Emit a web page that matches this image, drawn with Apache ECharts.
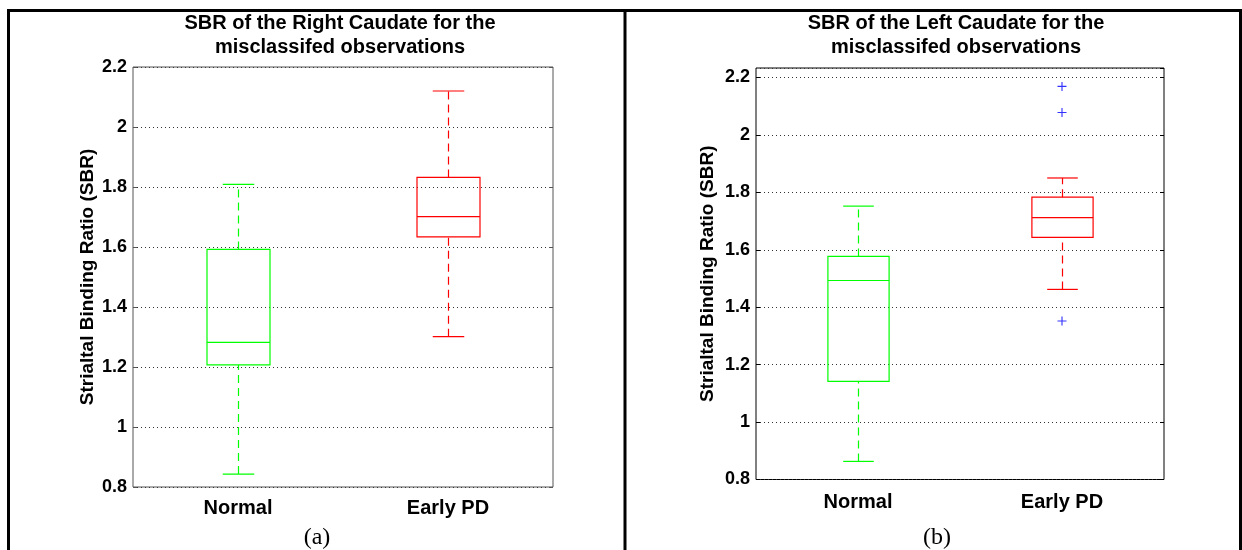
<!DOCTYPE html>
<html>
<head>
<meta charset="utf-8">
<script src="https://cdn.jsdelivr.net/npm/echarts@6/dist/echarts.min.js"></script>
<style>
html,body{margin:0;padding:0;background:#fff;}
#c{width:1242px;height:550px;}
</style>
</head>
<body>
<div id="c"></div>
<script>
// ---- data ----
const categories = ['Normal', 'Early PD'];
// [lower whisker, Q1, median, Q3, upper whisker]
const rightNormal = [0.843, 1.207, 1.282, 1.592, 1.809];
const rightEarlyPD = [1.301, 1.634, 1.701, 1.832, 2.120];
const leftNormal = [0.863, 1.142, 1.493, 1.577, 1.752];
const leftEarlyPD = [1.462, 1.643, 1.712, 1.783, 1.850];
const leftEarlyPDOutliers = [2.169, 2.078, 1.352];
const titleA = 'SBR of the Right Caudate for the\nmisclassifed observations';
const titleB = 'SBR of the Left Caudate for the\nmisclassifed observations';
const yName = 'Strialtal Binding Ratio (SBR)';
const panelLabels = ['(a)', '(b)'];

// ---- styles ----
const boxColors = ['#00ff00', '#ff0000'];
const FONT = '"Liberation Sans", Arial, sans-serif';

function renderBox(params, api) {
  const idx = api.value(0);
  const lo = api.coord([idx, api.value(1)]);
  const q1 = api.coord([idx, api.value(2)]);
  const med = api.coord([idx, api.value(3)]);
  const q3 = api.coord([idx, api.value(4)]);
  const hi = api.coord([idx, api.value(5)]);
  const band = api.size([1, 0])[0];
  const cx = Math.round(lo[0]) + 0.5;
  const bw = band * 0.3, cw = band * 0.15;
  const color = boxColors[params.dataIndex];
  const solid = {stroke: color, lineWidth: 1.2, fill: null};
  const dashed = {stroke: color, lineWidth: 1.2, lineDash: [8, 5], fill: null};
  return {
    type: 'group',
    children: [
      {type: 'line', shape: {x1: cx, y1: q3[1], x2: cx, y2: hi[1]}, style: dashed},
      {type: 'line', shape: {x1: cx, y1: lo[1], x2: cx, y2: q1[1]}, style: dashed},
      {type: 'line', shape: {x1: cx - cw / 2, y1: hi[1], x2: cx + cw / 2, y2: hi[1]}, style: solid},
      {type: 'line', shape: {x1: cx - cw / 2, y1: lo[1], x2: cx + cw / 2, y2: lo[1]}, style: solid},
      {type: 'rect', shape: {x: cx - bw / 2, y: q3[1], width: bw, height: q1[1] - q3[1]}, style: solid},
      {type: 'line', shape: {x1: cx - bw / 2, y1: med[1], x2: cx + bw / 2, y2: med[1]}, style: solid}
    ]
  };
}

function yAxisCfg(gridIndex, max, frameColor, showLabels, right) {
  return {
    type: 'value', gridIndex: gridIndex, min: 0.8, max: max, interval: 0.2,
    position: right ? 'right' : 'left',
    name: showLabels ? yName : '',
    nameLocation: 'middle',
    nameGap: gridIndex === 0 ? 36 : 39,
    nameTextStyle: {fontFamily: FONT, fontWeight: 'bold', fontSize: 19, color: '#000'},
    axisLine: {show: false},
    axisTick: {show: true, inside: true, length: 4, lineStyle: {color: frameColor, width: 1}},
    axisLabel: {show: showLabels, showMaxLabel: gridIndex === 0, fontFamily: FONT, fontWeight: 'bold', fontSize: 18, color: '#000', margin: 6,
      formatter: v => String(Math.round(v * 10) / 10)},
    splitLine: {show: !right, lineStyle: {color: '#333', type: [1, 3], width: 1}}
  };
}

function xAxisCfg(gridIndex) {
  return {
    type: 'category', gridIndex: gridIndex, data: categories,
    axisLine: {show: false}, axisTick: {show: false},
    axisLabel: {fontFamily: FONT, fontWeight: 'bold', fontSize: 20, color: '#000', margin: gridIndex === 0 ? 11 : 13},
    splitLine: {show: false}
  };
}

const outlierSymbol = 'path://M3.5,0H4.5V3.5H8V4.5H4.5V8H3.5V4.5H0V3.5H3.5Z';
const titleStyle = {fontFamily: FONT, fontWeight: 'bold', fontSize: 20, lineHeight: 24, color: '#000'};
const serifStyle = {fontFamily: '"Liberation Serif", "Times New Roman", serif', fontWeight: 'normal', fontSize: 24, color: '#000'};

const option = {
  animation: false,
  backgroundColor: '#fff',
  title: [
    {text: titleA, left: 340, top: 11, padding: 0, textAlign: 'center', textStyle: titleStyle},
    {text: titleB, left: 956, top: 11, padding: 0, textAlign: 'center', textStyle: titleStyle},
    {text: panelLabels[0], left: 312, top: 521, textAlign: 'center', textStyle: serifStyle},
    {text: panelLabels[1], left: 932, top: 521, textAlign: 'center', textStyle: serifStyle}
  ],
  grid: [
    {left: 133, top: 67, width: 420, height: 420, show: true, borderColor: '#555', borderWidth: 1, backgroundColor: '#fff'},
    {left: 756, top: 68, width: 408, height: 411.5, show: true, borderColor: '#000', borderWidth: 1, backgroundColor: '#fff'}
  ],
  xAxis: [xAxisCfg(0), xAxisCfg(1)],
  yAxis: [
    yAxisCfg(0, 2.2, '#555', true, false),
    yAxisCfg(1, 2.233, '#000', true, false),
    yAxisCfg(0, 2.2, '#555', false, true),
    yAxisCfg(1, 2.233, '#000', false, true)
  ],
  series: [
    {type: 'custom', xAxisIndex: 0, yAxisIndex: 0, renderItem: renderBox,
      encode: {x: 0, y: [1, 2, 3, 4, 5]},
      data: [[0].concat(rightNormal), [1].concat(rightEarlyPD)]},
    {type: 'custom', xAxisIndex: 1, yAxisIndex: 1, renderItem: renderBox,
      encode: {x: 0, y: [1, 2, 3, 4, 5]},
      data: [[0].concat(leftNormal), [1].concat(leftEarlyPD)]},
    {type: 'scatter', xAxisIndex: 1, yAxisIndex: 1, symbol: outlierSymbol, symbolSize: 9,
      itemStyle: {color: '#0000ff'},
      data: leftEarlyPDOutliers.map(v => [1, v])}
  ],
  graphic: [
    {type: 'line', shape: {x1: 7, y1: 10.5, x2: 1242, y2: 10.5}, style: {stroke: '#000', lineWidth: 3}},
    {type: 'line', shape: {x1: 8.5, y1: 9, x2: 8.5, y2: 550}, style: {stroke: '#000', lineWidth: 3}},
    {type: 'line', shape: {x1: 625, y1: 9, x2: 625, y2: 550}, style: {stroke: '#000', lineWidth: 3}},
    {type: 'line', shape: {x1: 1240.5, y1: 9, x2: 1240.5, y2: 550}, style: {stroke: '#000', lineWidth: 3}}
  ]
};

const chart = echarts.init(document.getElementById('c'), null, {renderer: 'canvas'});
chart.setOption(option);
</script>
</body>
</html>
